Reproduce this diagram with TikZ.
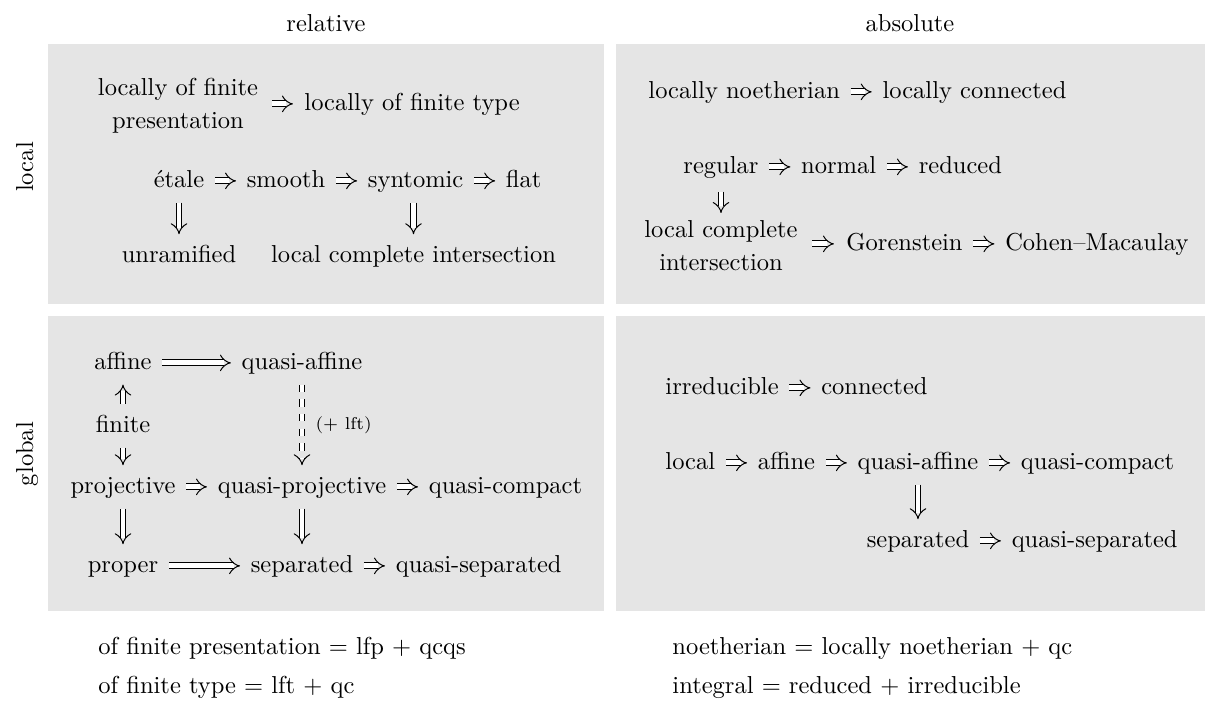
\documentclass[tikz,border=0pt]{standalone}
\usepackage{fontspec}
\usetikzlibrary{arrows.meta,positioning}
\begin{document}
\begin{tikzpicture}[x=0.408pt,y=-0.408pt,
  w/.style={inner sep=0pt, text height=6.94pt, text depth=1.94pt},
  w2/.style={inner sep=0pt, align=center},
  imp/.style={double, double distance=2pt, -{Implies}, shorten <=4.2pt, shorten >=4.2pt},
  panel/.style={fill=black!10},
  plain/.style={inner sep=0pt, anchor=base west},
  node distance=17pt]
\useasboundingbox (0,0) rectangle (1206,706);
% panels
\fill[panel] (48,44) rectangle (604,304);
\fill[panel] (616,44) rectangle (1205,304);
\fill[panel] (48,316) rectangle (604,611);
\fill[panel] (616,316) rectangle (1205,611);
% headers
\node[w,anchor=base] (hrel) at (326,31) {relative};
\node[w,anchor=base] (habs) at (910,31) {absolute};
\node[w,rotate=90,anchor=base] (vloc) at (33,167) {local};
\node[w,rotate=90,anchor=base] (vglo) at (33,454) {global};
% top left
\node[w2] (lfp) at (178,105.4) {locally of finite\\[1.5pt]presentation};
\node[w,anchor=base west] (lft) at (304,110) {locally of finite type};
\draw[imp, shorten <=5.7pt, shorten >=4.5pt] (lfp.east |- lft.west) -- (lft.west);
\node[w,anchor=base] (et) at (179,187) {étale};
\node[w,right=of et] (sm) {smooth};
\node[w,right=of sm] (syn) {syntomic};
\node[w,right=of syn] (fl) {flat};
\node[w,anchor=base] (unr) at (179,262) {unramified};
\node[w,anchor=base] (lci1) at (413.5,262) {local complete intersection};
\draw[imp] (et) -- (sm);
\draw[imp] (sm) -- (syn);
\draw[imp] (syn) -- (fl);
\draw[imp] (et) -- (unr);
\draw[imp] (lci1.north |- syn.south) -- (lci1.north);
% top right
\node[w,anchor=base west] (ln) at (648,98) {locally noetherian};
\node[w,right=of ln] (lc) {locally connected};
\draw[imp] (ln) -- (lc);
\node[w,anchor=base] (reg) at (721,173) {regular};
\node[w,right=of reg] (nor) {normal};
\node[w,right=of nor] (red) {reduced};
\draw[imp] (reg) -- (nor);
\draw[imp] (nor) -- (red);
\node[w2] (lci2) at (reg |- 0,246) {local complete\\[1.5pt]intersection};
\draw[imp, shorten <=5.5pt, shorten >=3pt] (reg) -- (lci2);
\node[w,anchor=base west] (gor) at (846,250) {Gorenstein};
\node[w,right=of gor] (cm) {Cohen--Macaulay};
\draw[imp, shorten <=5.7pt, shorten >=4.9pt] (lci2.east |- gor.west) -- (gor.west);
\draw[imp] (gor) -- (cm);
% bottom left
\node[w,anchor=base] (af) at (123,369) {affine};
\node[w,anchor=base] (qa) at (302,369) {quasi-affine};
\node[w,anchor=base] (fin) at (123,432) {finite};
\node[w,anchor=base] (pr) at (123,493) {projective};
\node[w,anchor=base] (qp) at (302,493) {quasi-projective};
\node[w,right=of qp] (qc) {quasi-compact};
\node[w,anchor=base] (prop) at (123,572) {proper};
\node[w,anchor=base] (sep) at (302,572) {separated};
\node[w,right=of sep] (qs) {quasi-separated};
\draw[imp] (af) -- (qa);
\draw[imp] (fin) -- (af);
\draw[imp] (fin) -- (pr);
\draw[imp] (pr) -- (qp);
\draw[imp] (qp) -- (qc);
\draw[imp,dashed] (qa) -- node[right,font=\scriptsize,xshift=2pt] (lftlab) {(+ lft)} (qp);
\draw[imp] (pr) -- (prop);
\draw[imp] (qp) -- (sep);
\draw[imp] (prop) -- (sep);
\draw[imp] (sep) -- (qs);
% bottom right
\node[w,anchor=base west] (irr) at (665,394) {irreducible};
\node[w,right=of irr] (con) {connected};
\draw[imp] (irr) -- (con);
\node[w,anchor=base west] (loc) at (665,469) {local};
\node[w,right=of loc] (af2) {affine};
\node[w,right=of af2] (qa2) {quasi-affine};
\node[w,right=of qa2] (qc2) {quasi-compact};
\draw[imp] (loc) -- (af2);
\draw[imp] (af2) -- (qa2);
\draw[imp] (qa2) -- (qc2);
\node[w,anchor=base] (sep2) at (qa2 |- 0,547) {separated};
\node[w,right=of sep2] (qs2) {quasi-separated};
\draw[imp] (qa2) -- (sep2);
\draw[imp] (sep2) -- (qs2);
% definitions
\node[plain] (d1) at (98,654) {of finite presentation $=$ lfp $+$ qcqs};
\node[plain] (d2) at (98,693) {of finite type $=$ lft $+$ qc};
\node[plain] (d3) at (672,654) {noetherian $=$ locally noetherian $+$ qc};
\node[plain] (d4) at (672,693) {integral $=$ reduced $+$ irreducible};
\end{tikzpicture}
\end{document}
